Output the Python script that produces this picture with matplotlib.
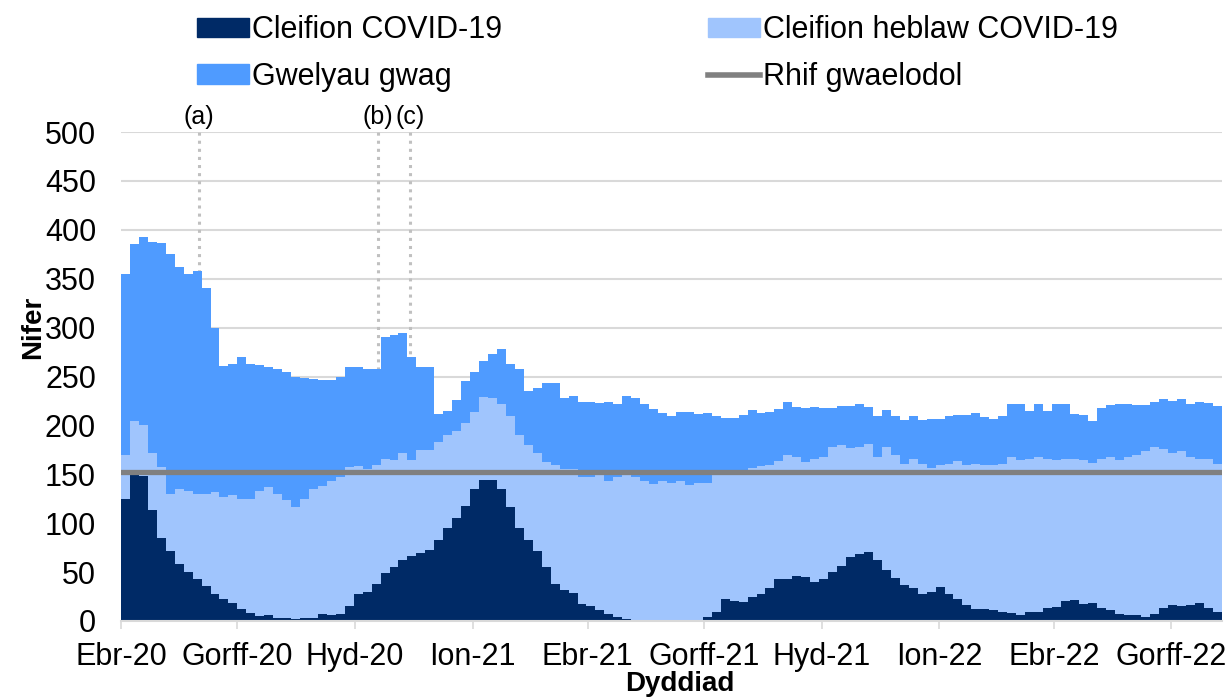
import datetime as dt

import matplotlib
matplotlib.use('Agg')
import matplotlib.pyplot as plt
from matplotlib.patches import Patch
from matplotlib.lines import Line2D
import numpy as np

plt.rcParams['font.family'] = ['Liberation Sans', 'DejaVu Sans']

# weekly readings, first week starting 1 Apr 2020
start = dt.date(2020, 4, 1)
end = dt.date(2022, 8, 10)

covid = [125, 150, 148, 113, 85, 72, 58, 50, 43, 36, 28, 22, 18, 12, 8, 5, 6, 3, 3, 2,
         3, 3, 7, 6, 7, 15, 28, 30, 38, 49, 55, 62, 66, 70, 73, 83, 95, 105, 118, 135, 144,
         144, 135, 117, 95, 83, 72, 55, 38, 32, 29, 17, 15, 11, 7, 4, 2, 1, 1, 1, 1,
         0, 0, 0, 0, 4, 9, 23, 20, 19, 25, 28, 34, 43, 43, 46, 45, 40, 43, 50, 56, 65,
         69, 71, 62, 52, 44, 37, 34, 28, 30, 35, 28, 22, 16, 12, 12, 11, 9, 8, 6, 9, 9,
         13, 14, 20, 21, 17, 18, 13, 11, 7, 6, 6, 4, 7, 13, 16, 15, 16, 18, 13, 9]

non_covid = [45, 55, 52, 59, 72, 58, 77, 83, 87, 94, 104, 105, 111, 113, 117, 128, 131, 127, 121, 115,
             122, 132, 131, 137, 140, 142, 130, 125, 122, 117, 110, 110, 99, 105, 102, 100, 95, 89, 84, 79, 85,
             84, 87, 93, 95, 97, 100, 108, 121, 123, 126, 130, 132, 139, 136, 143, 150, 146, 142, 139, 142,
             141, 143, 139, 141, 137, 141, 128, 132, 134, 131, 130, 125, 121, 127, 122, 118, 126, 125, 128, 124, 112,
             109, 110, 106, 126, 126, 124, 132, 133, 126, 124, 133, 142, 143, 149, 147, 148, 152, 160, 159, 157, 159,
             153, 151, 146, 145, 148, 144, 153, 157, 158, 162, 164, 170, 171, 163, 156, 159, 152, 148, 153, 152]

empty_beds = [185, 180, 193, 216, 230, 245, 227, 222, 228, 210, 168, 134, 134, 145, 138, 129, 123, 128, 131, 133,
              123, 112, 108, 103, 103, 103, 102, 103, 98, 124, 127, 122, 105, 85, 85, 29, 25, 32, 43, 41, 37,
              45, 56, 53, 68, 55, 66, 80, 84, 73, 75, 77, 77, 73, 81, 75, 78, 81, 79, 77, 70,
              69, 71, 75, 71, 72, 60, 57, 56, 58, 60, 55, 55, 53, 54, 51, 55, 53, 50, 40, 40, 43,
              44, 38, 42, 38, 40, 45, 44, 45, 51, 48, 49, 47, 52, 52, 50, 48, 49, 54, 57, 49, 54,
              49, 57, 56, 46, 46, 43, 52, 53, 57, 54, 51, 47, 46, 51, 53, 53, 54, 58, 57, 59]

baseline = 152

events = ['(a)', '(b)', '(c)']
event_dates = [dt.date(2020, 6, 1), dt.date(2020, 10, 19), dt.date(2020, 11, 13)]

tick_dates = [dt.date(2020, 4, 1), dt.date(2020, 7, 1), dt.date(2020, 10, 1), dt.date(2021, 1, 1),
              dt.date(2021, 4, 1), dt.date(2021, 7, 1), dt.date(2021, 10, 1), dt.date(2022, 1, 1),
              dt.date(2022, 4, 1), dt.date(2022, 7, 1)]
tick_labels = ['Ebr-20', 'Gorff-20', 'Hyd-20', 'Ion-21', 'Ebr-21', 'Gorff-21',
               'Hyd-21', 'Ion-22', 'Ebr-22', 'Gorff-22']

labels = ['Cleifion COVID-19', 'Cleifion heblaw COVID-19', 'Gwelyau gwag', 'Rhif gwaelodol']
colors = ['#002A66', '#A0C5FD', '#4F9BFF', '#808080']

weeks = [start + dt.timedelta(days=7 * i) for i in range(len(covid))] + [end]
c = np.array(covid + covid[-1:], dtype=float)
n = np.array(non_covid + non_covid[-1:], dtype=float)
e = np.array(empty_beds + empty_beds[-1:], dtype=float)

fig = plt.figure(figsize=(12.31, 7.0), dpi=100)
ax = fig.add_axes([121 / 1231, 1 - 621 / 700, (1222 - 121) / 1231, (621 - 132) / 700])

# event markers behind the areas
for lab, d in zip(events, event_dates):
    ax.axvline(d, ymin=0, ymax=1, color='#c0c0c0', linestyle=':', linewidth=2.2, zorder=1)
    ax.text(d, 503, lab, ha='center', va='bottom', fontsize=18, clip_on=False)

ax.fill_between(weeks, 0, c, step='post', color=colors[0], linewidth=0, zorder=2)
ax.fill_between(weeks, c, c + n, step='post', color=colors[1], linewidth=0, zorder=2)
ax.fill_between(weeks, c + n, c + n + e, step='post', color=colors[2], linewidth=0, zorder=2)
ax.plot([start, end], [baseline, baseline], color=colors[3], linewidth=3.8, zorder=3)

ax.set_xlim(start, end)
ax.set_ylim(0, 500)
ax.set_yticks(np.arange(0, 501, 50))
ax.yaxis.grid(True, color='#d9d9d9', linewidth=1.5, zorder=0)
ax.set_axisbelow(True)
ax.set_xticks(tick_dates)
ax.set_xticklabels(tick_labels)

for s in ['top', 'right', 'left']:
    ax.spines[s].set_visible(False)
ax.spines['bottom'].set_color('#d9d9d9')
ax.spines['bottom'].set_linewidth(1.5)
ax.tick_params(axis='y', length=0, pad=18, labelsize=22)
ax.tick_params(axis='x', length=6, width=1.2, color='#d9d9d9', pad=9, labelsize=22)

ax.set_ylabel('Nifer', fontsize=20, fontweight='bold')
ax.yaxis.set_label_coords(-0.068, 0.6)
ax.set_xlabel('Dyddiad', fontsize=20, fontweight='bold')
ax.xaxis.set_label_coords(0.508, -0.102)

handles = [Patch(color=colors[0]), Patch(color=colors[2]),
           Patch(color=colors[1]), Line2D([], [], color=colors[3], linewidth=4)]
fig.legend(handles, [labels[0], labels[2], labels[1], labels[3]], ncol=2,
           loc='upper left', bbox_to_anchor=(197 / 1231, 1 - 15 / 700),
           frameon=False, fontsize=22, handlelength=1.7, handleheight=0.6,
           handletextpad=0.1, columnspacing=6.75, labelspacing=0.55,
           borderpad=0, borderaxespad=0)

plt.savefig('out.png', dpi=100)
plt.close()
